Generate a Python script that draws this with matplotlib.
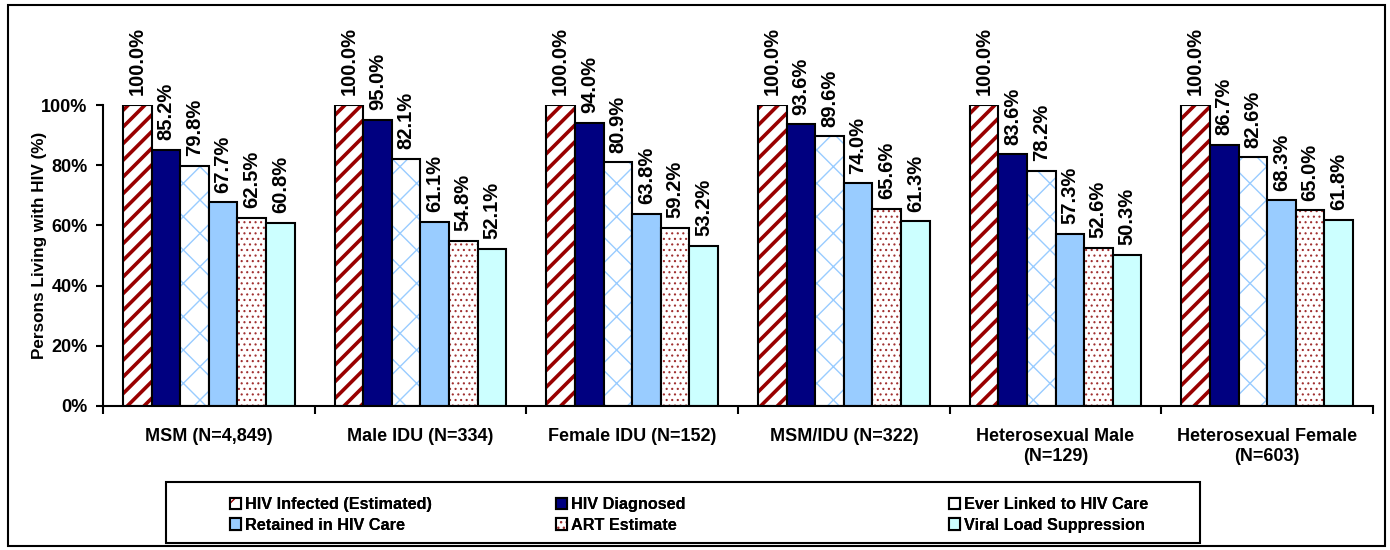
import numpy as np
import matplotlib.pyplot as plt
from matplotlib.patches import Rectangle

plt.rcParams['font.family'] = ['Liberation Sans', 'DejaVu Sans']
plt.rcParams['font.weight'] = 'bold'

groups = ['MSM (N=4,849)', 'Male IDU (N=334)', 'Female IDU (N=152)', 'MSM/IDU (N=322)',
          'Heterosexual Male\n(N=129)', 'Heterosexual Female\n(N=603)']
series = ['HIV Infected (Estimated)', 'HIV Diagnosed', 'Ever Linked to HIV Care',
          'Retained in HIV Care', 'ART Estimate', 'Viral Load Suppression']
infected = [100.0, 100.0, 100.0, 100.0, 100.0, 100.0]
diagnosed = [85.2, 95.0, 94.0, 93.6, 83.6, 86.7]
linked = [79.8, 82.1, 80.9, 89.6, 78.2, 82.6]
retained = [67.7, 61.1, 63.8, 74.0, 57.3, 68.3]
art = [62.5, 54.8, 59.2, 65.6, 52.6, 65.0]
suppressed = [60.8, 52.1, 53.2, 61.3, 50.3, 61.8]
values = [infected, diagnosed, linked, retained, art, suppressed]

# facecolor, hatch colour, hatch, hatch linewidth
styles = [('white', '#990000', '//', 2.6),
          ('#000080', None, None, 0),
          ('white', '#99CCFF', 'x', 1.0),
          ('#99CCFF', None, None, 0),
          ('white', '#A03030', '...', 0.8),
          ('#CCFFFF', None, None, 0)]

fig = plt.figure(figsize=(13.9, 5.5), dpi=100)
ax = fig.add_axes([103/1390, 1-406/550, (1373-103)/1390, (406-105)/550])

x = np.arange(len(groups))
w = 0.135
handles = []
for i, vals in enumerate(values):
    fc, hc, hatch, hlw = styles[i]
    pos = x + (i - 2.5) * w
    parts = []
    if hatch:
        with plt.rc_context({'hatch.linewidth': hlw, 'hatch.color': hc}):
            b = ax.bar(pos, vals, w, color=fc, edgecolor=hc, hatch=hatch, linewidth=0)
            for p in b:
                if hasattr(p, 'set_hatch_linewidth'):
                    p.set_hatch_linewidth(hlw)
        parts.append(b[0])
    else:
        b = ax.bar(pos, vals, w, color=fc, linewidth=0)
        parts.append(b[0])
    o = ax.bar(pos, vals, w, fill=False, edgecolor='black', linewidth=1.5)
    parts.append(o[0])
    handles.append(tuple(parts))
    for px, v in zip(pos, vals):
        ax.annotate(f'{v:.1f}%', (px, v), xytext=(0, 7), textcoords='offset points',
                    rotation=90, ha='center', va='bottom', fontsize=14.5,
                    fontweight='bold', annotation_clip=False)

ax.set_xlim(-0.5, len(groups) - 0.5)
ax.set_ylim(0, 100)
ax.set_yticks(np.arange(0, 101, 20))
ax.set_yticklabels([f'{t}%' for t in range(0, 101, 20)], fontsize=13)
ax.set_xticks(x)
ax.set_xticklabels(groups, fontsize=13)
ax.set_xticks(np.arange(len(groups) + 1) - 0.5, minor=True)
ax.tick_params(axis='x', which='major', length=0, pad=16)
ax.tick_params(axis='x', which='minor', length=6, width=1.5, direction='out')
ax.tick_params(axis='y', length=5, width=1.5, direction='out', pad=6)
ax.set_ylabel('Persons Living with HIV (%)', fontsize=12.3, fontweight='bold')
ax.yaxis.set_label_coords(-0.044, 0.535)
for s in ['top', 'right']:
    ax.spines[s].set_visible(False)
for s in ['left', 'bottom']:
    ax.spines[s].set_linewidth(1.5)

# legend: three columns inside one frame
fig.patches.append(Rectangle((166/1390, 1-543/550), (1200-166)/1390, (543-482)/550,
                             transform=fig.transFigure, fill=False, lw=1.5, ec='black'))
col_x = [230, 556, 949]
for c in range(3):
    idx = [c, c + 3]
    leg = fig.legend([handles[k] for k in idx], [series[k] for k in idx],
                     loc='center left', bbox_to_anchor=(col_x[c]/1390, 1-515/550),
                     frameon=False, borderpad=0, borderaxespad=0, fontsize=11.7,
                     handlelength=0.7, handleheight=0.7, handletextpad=0.25,
                     labelspacing=0.35)
    fig.add_artist(leg)

# outer frame
fig.patches.append(Rectangle((8/1390, 1-546/550), (1385-8)/1390, (546-5)/550,
                             transform=fig.transFigure, fill=False, lw=1.5, ec='black'))

fig.savefig('out.png', dpi=100)
